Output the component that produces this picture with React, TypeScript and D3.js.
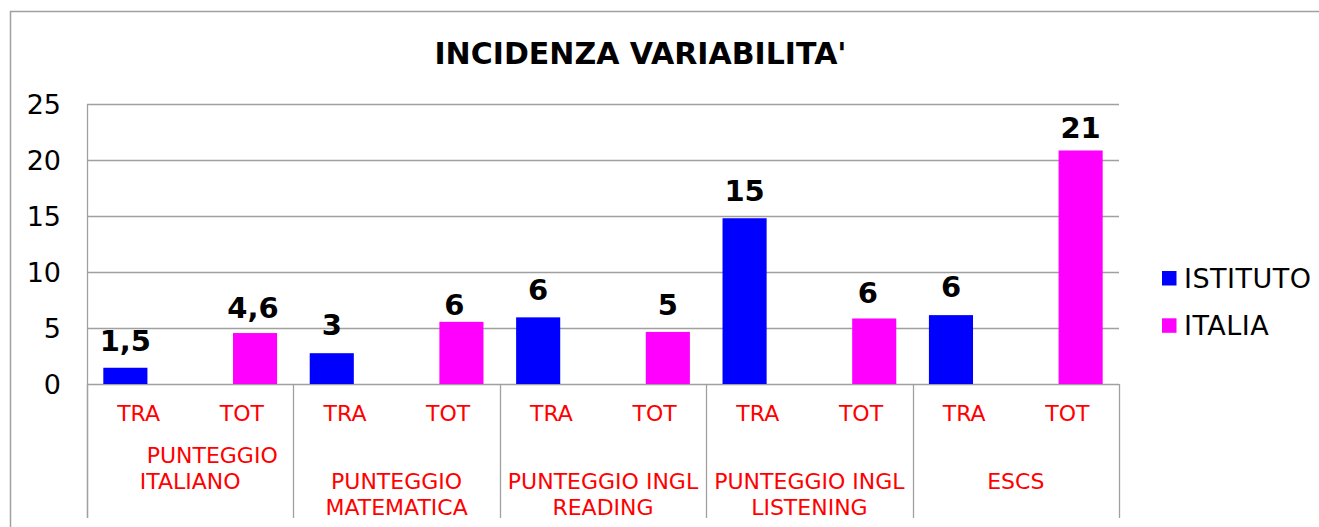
import React from "react";
import * as d3 from "d3";

// ---- data ----
const categories = ["TRA", "TOT", "TRA", "TOT", "TRA", "TOT", "TRA", "TOT", "TRA", "TOT"];
const groupLabels: string[][] = [
  ["PUNTEGGIO", "ITALIANO"],
  ["PUNTEGGIO", "MATEMATICA"],
  ["PUNTEGGIO INGL", "READING"],
  ["PUNTEGGIO INGL", "LISTENING"],
  ["ESCS"],
];
const seriesNames = ["ISTITUTO", "ITALIA"];
const istituto: (number | null)[] = [1.45, null, 2.75, null, 5.95, null, 14.8, null, 6.15, null];
const italia: (number | null)[] = [null, 4.55, null, 5.55, null, 4.65, null, 5.85, null, 20.85];
const istitutoLabels = ["1,5", "", "3", "", "6", "", "15", "", "6", ""];
const italiaLabels = ["", "4,6", "", "6", "", "5", "", "6", "", "21"];
const yTicks = [0, 5, 10, 15, 20, 25];
const title = "INCIDENZA VARIABILITA'";

// ---- layout / style ----
const W = 1319;
const H = 527;
const plotLeft = 87;
const plotRight = 1119;
const plotTop = 104;
const plotBottom = 384;
const colors = ["#0000FF", "#FF00FF"];
const gridColor = "#a0a0a0";
const font = "'DejaVu Sans', Verdana, sans-serif";
const gapWidth = 0.74;
const overlap = 0.4;
// per-label manual nudges (gap above bar, horizontal shift)
const labelGap = [
  [17, 0, 18, 0, 17, 0, 17, 0, 18.6, 0],
  [0, 15, 0, 7, 0, 16.7, 0, 15, 0, 12],
];
const labelDx = [
  [0, 0, 0, 0, 0, 0, 0, 0, 0, 0],
  [0, -2, 0, -7, 0, 0, 0, -6.5, 0, 0],
];

export default function App() {
  const x = d3
    .scaleBand<number>()
    .domain(d3.range(categories.length))
    .range([plotLeft, plotRight])
    .paddingInner(0)
    .paddingOuter(0);
  const y = d3.scaleLinear().domain([0, 25]).range([plotBottom, plotTop]);
  const slot = x.bandwidth();
  const n = seriesNames.length;
  const barW = slot / (n - overlap * (n - 1) + gapWidth);
  const leftPad = (gapWidth * barW) / 2;
  const seriesOffset = (i: number) => leftPad + i * barW * (1 - overlap);

  const allSeries = [istituto, italia];
  const allLabels = [istitutoLabels, italiaLabels];
  const groupCount = groupLabels.length;
  const groupW = (plotRight - plotLeft) / groupCount;

  return (
    <svg
      width={W}
      height={H}
      style={{ position: "absolute", left: 0, top: 0, background: "#fff" }}
      fontFamily={font}
    >
      <rect x={0} y={0} width={W} height={H} fill="#fff" />
      {/* outer frame */}
      <rect x={10.5} y={11.5} width={1400} height={700} fill="none" stroke={gridColor} strokeWidth={1.5} />

      <text x={640.5} y={64} textAnchor="middle" fontSize={30} fontWeight="bold" fill="#000">
        {title}
      </text>

      {/* gridlines */}
      {yTicks.map((t) => (
        <line
          key={"g" + t}
          x1={plotLeft}
          x2={plotRight}
          y1={Math.round(y(t)) + 0.5}
          y2={Math.round(y(t)) + 0.5}
          stroke={gridColor}
          strokeWidth={1.3}
        />
      ))}
      {/* y axis line */}
      <line x1={plotLeft + 0.5} x2={plotLeft + 0.5} y1={plotTop} y2={518} stroke={gridColor} strokeWidth={1.3} />
      {yTicks.map((t) => (
        <text
          key={"yt" + t}
          x={61}
          y={y(t)}
          dy="0.36em"
          textAnchor="end"
          fontSize={27}
          fill="#000"
        >
          {t}
        </text>
      ))}

      {/* bars */}
      {allSeries.map((s, si) =>
        s.map((v, ci) =>
          v == null ? null : (
            <rect
              key={"b" + si + "-" + ci}
              x={(x(ci) as number) + seriesOffset(si)}
              y={y(v)}
              width={barW}
              height={y(0) - y(v)}
              fill={colors[si]}
            />
          )
        )
      )}

      {/* data labels */}
      {allSeries.map((s, si) =>
        s.map((v, ci) =>
          v == null ? null : (
            <text
              key={"l" + si + "-" + ci}
              x={(x(ci) as number) + seriesOffset(si) + barW / 2 + labelDx[si][ci]}
              y={y(v) - labelGap[si][ci]}
              textAnchor="middle"
              fontSize={29}
              fontWeight="bold"
              fill="#000"
            >
              {allLabels[si][ci]}
            </text>
          )
        )
      )}

      {/* group separators */}
      {d3.range(groupCount + 1).map((g) => (
        <line
          key={"sep" + g}
          x1={Math.round(plotLeft + g * groupW) + 0.5}
          x2={Math.round(plotLeft + g * groupW) + 0.5}
          y1={plotBottom}
          y2={518}
          stroke={gridColor}
          strokeWidth={1.3}
        />
      ))}

      {/* category labels */}
      {categories.map((c, ci) => (
        <text
          key={"c" + ci}
          x={(x(ci) as number) + slot / 2}
          y={421}
          textAnchor="middle"
          fontSize={22}
          fill="#FF0000"
        >
          {c}
        </text>
      ))}

      {/* group labels */}
      {groupLabels.map((lines, gi) => {
        const cx = plotLeft + (gi + 0.5) * groupW;
        const startY = gi === 0 ? 463 : 489;
        return (
          <text key={"gl" + gi} textAnchor="middle" fontSize={22} fill="#FF0000">
            {lines.map((ln, li) => (
              <tspan key={li} x={cx + (gi === 0 && li === 0 ? 22 : 0)} y={startY + li * 26}>
                {ln}
              </tspan>
            ))}
          </text>
        );
      })}

      {/* legend */}
      {seriesNames.map((name, si) => (
        <g key={"lg" + si} transform={`translate(1162, ${271 + si * 47.3})`}>
          <rect x={0} y={0} width={14.5} height={14.5} fill={colors[si]} />
          <text x={22} y={16.5} fontSize={27} letterSpacing={0.5} fill="#000">
            {name}
          </text>
        </g>
      ))}
    </svg>
  );
}
